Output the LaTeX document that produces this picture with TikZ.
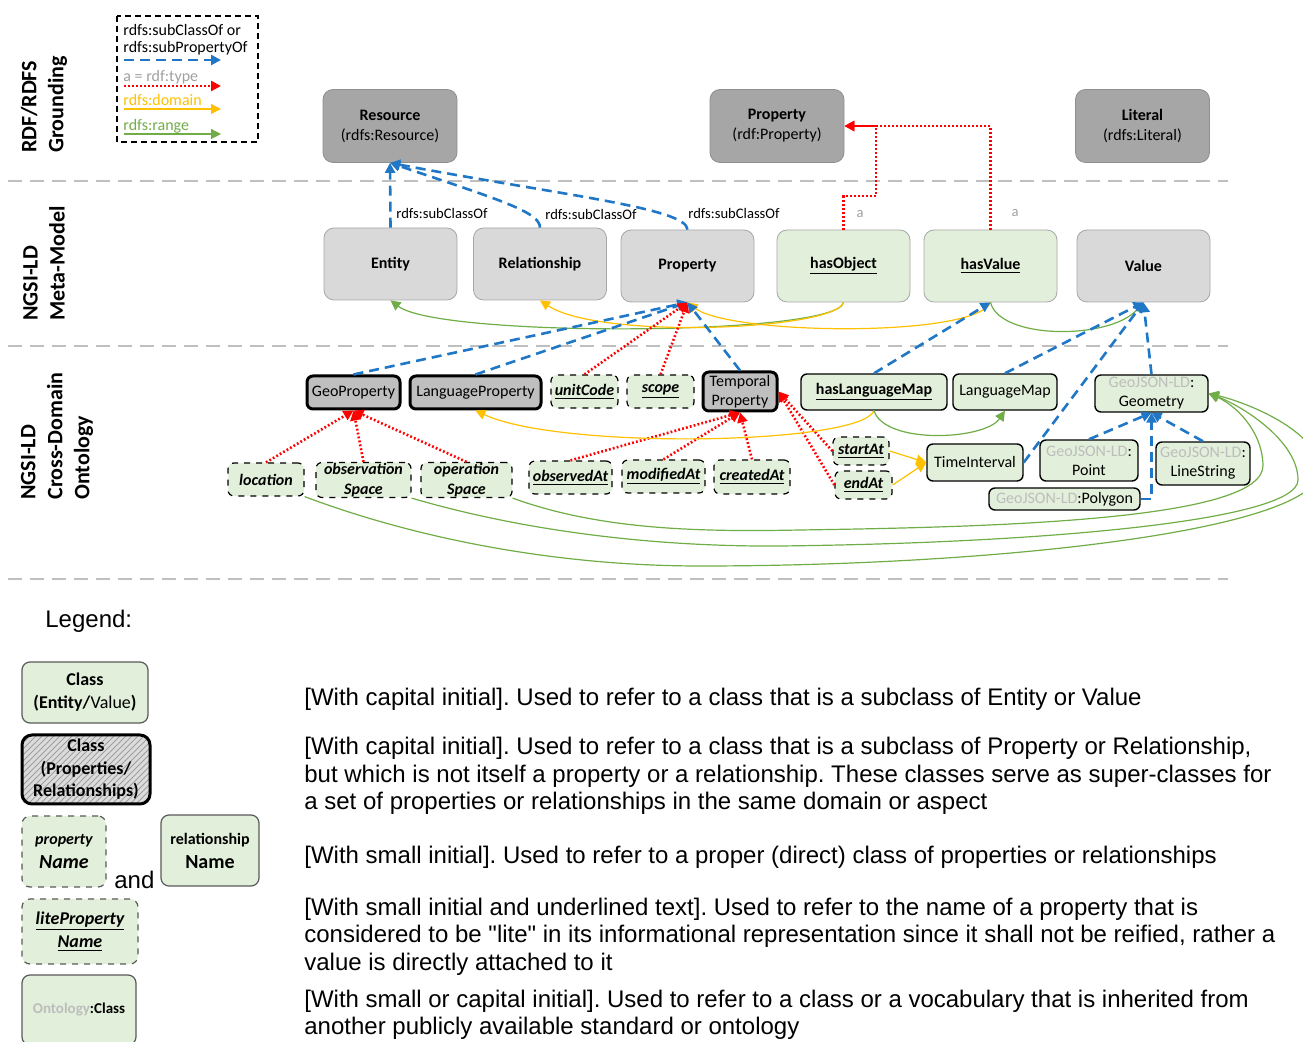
\documentclass[tikz,border=0pt]{standalone}
\usepackage{fontspec}
\setmainfont{Carlito}
\newfontfamily\arialfont{Liberation Sans}
\usepackage{tikz}
\usetikzlibrary{arrows.meta,patterns}
\frenchspacing

\definecolor{rdfgray}{HTML}{A6A6A6}
\definecolor{rdfedge}{HTML}{8F8F8F}
\definecolor{metagray}{HTML}{D9D9D9}
\definecolor{metaedge}{HTML}{A6A6A6}
\definecolor{groupgray}{HTML}{BFBFBF}
\definecolor{litegreen}{HTML}{E2EFDA}
\definecolor{subblue}{HTML}{1F77C6}
\definecolor{domorange}{HTML}{FFC000}
\definecolor{rngreen}{HTML}{70AD47}
\definecolor{sepgray}{HTML}{BFBFBF}
\definecolor{ontgray}{HTML}{BDBDBD}
\definecolor{lblgray}{HTML}{A0A0A0}
\definecolor{lgedge}{HTML}{595959}

\begin{document}
\begin{tikzpicture}[x=0.5pt,y=-0.5pt,
	rdfbox/.style={draw=rdfedge,fill=rdfgray,rounded corners=5pt,minimum width=67pt,minimum height=36.5pt,align=center,font=\fontsize{8}{10}\selectfont},
	metabox/.style={draw=metaedge,fill=metagray,rounded corners=5pt,minimum width=66.5pt,minimum height=36pt,font=\fontsize{8}{10}\selectfont\bfseries},
	metalite/.style={metabox,fill=litegreen},
	groupbox/.style={draw=black,line width=1.5pt,fill=groupgray,rounded corners=3pt,inner sep=0pt,align=center,font=\fontsize{8}{9.5}\selectfont},
	propbox/.style={draw=black,dashed,line width=0.6pt,fill=litegreen,rounded corners=3pt,inner sep=0pt,align=center,font=\fontsize{8}{10}\selectfont\bfseries\itshape},
	classbox/.style={draw=black,line width=0.7pt,fill=litegreen,rounded corners=3pt,inner sep=0pt,align=center,font=\fontsize{8}{9.5}\selectfont},
	lbl/.style={font=\fontsize{7.3}{8}\selectfont,inner sep=1pt},
	keytext/.style={font=\fontsize{8}{9}\selectfont,inner sep=0pt,anchor=west},
	sidetext/.style={rotate=90,anchor=west,align=left,inner sep=0pt,font=\fontsize{11}{13.5}\selectfont\bfseries},
	sepline/.style={draw=sepgray,line width=1.2pt,dash pattern=on 7pt off 4pt},
	subline/.style={draw=subblue,line width=1.3pt,dash pattern=on 5pt off 3pt,-{Triangle[length=5pt,width=5pt]}},
	typeline/.style={draw=red,line width=1.3pt,dash pattern=on 0.9pt off 1.1pt,-{Triangle[length=5pt,width=5pt]}},
	domline/.style={draw=domorange,line width=0.6pt,-{Triangle[length=5pt,width=5pt]}},
	rngline/.style={draw=rngreen,line width=0.6pt,-{Triangle[length=5pt,width=5pt]}},
	lgbox/.style={draw=lgedge,line width=0.6pt,fill=litegreen,rounded corners=4pt,inner sep=0pt,align=center,font=\fontsize{9}{11.5}\selectfont},
	lgtext/.style={anchor=north west,inner sep=0pt,align=left,font=\arialfont\fontsize{12}{13.75}\selectfont}
]
	\useasboundingbox (0,0) rectangle (1303,1042);

	% layer separators and side titles
	\draw[sepline] (8,181) -- (1228,181);
	\draw[sepline] (8,346) -- (1228,346);
	\draw[sepline] (8,579) -- (1228,579);
	\node[sidetext] (titlerdf) at (44,153) {RDF/RDFS\\Grounding};
	\node[sidetext] (titlemeta) at (44,321) {NGSI-LD\\Meta-Model};
	\node[sidetext] (titlecross) at (57,500) {NGSI-LD\\Cross-Domain\\Ontology};

	% key box
	\draw[black,line width=0.8pt,dash pattern=on 3pt off 2pt] (117,16) rectangle (258,142);
	\node[keytext] (keysub) at (123,30) {rdfs:subClassOf or};
	\node[keytext] (keysubp) at (123,48) {rdfs:subPropertyOf};
	\node[keytext,text=lblgray] (keytype) at (123,77) {a = rdf:type};
	\node[keytext,text=domorange] (keydom) at (123,100) {rdfs:domain};
	\node[keytext,text=rngreen] (keyrng) at (123,126) {rdfs:range};
	\coordinate (ksubA) at (124,60);
	\coordinate (ksubB) at (221,60);
	\coordinate (ktypeA) at (124,86);
	\coordinate (ktypeB) at (221,86);
	\coordinate (kdomA) at (124,109);
	\coordinate (kdomB) at (221,109);
	\coordinate (krngA) at (124,134);
	\coordinate (krngB) at (221,134);
	\draw[subline] (ksubA) -- (ksubB);
	\draw[typeline] (ktypeA) -- (ktypeB);
	\draw[domline] (kdomA) -- (kdomB);
	\draw[rngline] (krngA) -- (krngB);

	% RDF/RDFS grounding
	\node[rdfbox] (res) at (390,126) {\textbf{Resource}\\(rdfs:Resource)};
	\node[rdfbox] (rdfprop) at (777,126) {\textbf{Property}\\(rdf:Property)};
	\node[rdfbox] (lit) at (1142.5,126) {\textbf{Literal}\\(rdfs:Literal)};

	% meta-model
	\node[metabox] (ent) at (390.5,264) {Entity};
	\node[metabox] (rel) at (540,264) {Relationship};
	\node[metabox] (prop) at (687.5,266) {Property};
	\node[metalite] (hasobj) at (843.5,266) {\underline{hasObject}};
	\node[metalite] (hasval) at (990.5,266) {\underline{hasValue}};
	\node[metabox] (val) at (1143.5,266) {Value};

	% cross-domain ontology
	\node[groupbox,minimum width=46.5pt,minimum height=16.5pt] (geoprop) at (353.5,392.5) {GeoProperty};
	\node[groupbox,minimum width=65.5pt,minimum height=16.5pt] (langprop) at (475.5,392.5) {LanguageProperty};
	\node[propbox,minimum width=33.5pt,minimum height=16.5pt] (unitcode) at (584.5,391.5) {\underline{unitCode}};
	\node[propbox,minimum width=33.5pt,minimum height=16.5pt] (scope) at (660.5,391.5) {\underline{scope}};
	\node[groupbox,minimum width=37pt,minimum height=19.5pt] (tempprop) at (740,391.5) {Temporal\\Property};
	\node[classbox,minimum width=73pt,minimum height=18pt,font=\fontsize{8}{9.5}\selectfont\bfseries] (haslangmap) at (874,392) {\underline{hasLanguageMap}};
	\node[classbox,minimum width=52pt,minimum height=18pt] (langmap) at (1005,392) {LanguageMap};
	\node[classbox,minimum width=56.5pt,minimum height=18.5pt] (geom) at (1151.5,393.5) {{\color{ontgray}GeoJSON-LD}:\\Geometry};
	\node[propbox,minimum width=38pt,minimum height=16.5pt] (loc) at (266,479.5) {location};
	\node[propbox,minimum width=47.5pt,minimum height=17.5pt] (obsspace) at (363.5,480) {observation\\Space};
	\node[propbox,minimum width=45.5pt,minimum height=17.5pt] (opspace) at (466.5,480) {operation\\Space};
	\node[propbox,minimum width=41.5pt,minimum height=16.5pt] (obsat) at (570.5,477.5) {\underline{observedAt}};
	\node[propbox,minimum width=41.5pt,minimum height=16.5pt] (modat) at (663.5,476.5) {\underline{modifiedAt}};
	\node[propbox,minimum width=38pt,minimum height=17pt] (creat) at (752,477) {\underline{createdAt}};
	\node[propbox,minimum width=28pt,minimum height=14pt] (startat) at (861,451) {\underline{startAt}};
	\node[propbox,minimum width=28.5pt,minimum height=14pt] (endat) at (863.5,485) {\underline{endAt}};
	\node[classbox,minimum width=48pt,minimum height=18.5pt] (timeint) at (975,462.5) {TimeInterval};
	\node[classbox,minimum width=49pt,minimum height=20.5pt] (point) at (1089,460.5) {{\color{ontgray}GeoJSON-LD}:\\Point};
	\node[classbox,minimum width=47pt,minimum height=21.5pt] (linestr) at (1203,463.5) {{\color{ontgray}GeoJSON-LD}:\\LineString};
	\node[classbox,minimum width=75.5pt,minimum height=11pt] (polygon) at (1064.5,499) {{\color{ontgray}GeoJSON-LD}:Polygon};

	% grounding links
	\draw[subline] (ent.north) -- (res.south);
	\draw[subline] (rel.north) .. controls (540,212) and (500,200) .. (res.south);
	\draw[subline] (prop.north) .. controls (687,208) and (560,195) .. (res.south);
	\node[lbl,anchor=west] (lblent) at (394,213) {rdfs:subClassOf};
	\node[lbl,anchor=west] (lblrel) at (543,214) {rdfs:subClassOf};
	\node[lbl,anchor=west] (lblprop) at (686,213) {rdfs:subClassOf};
	\node[lbl,text=lblgray] (lblobj) at (860,214) {a};
	\node[lbl,text=lblgray] (lblval) at (1015,213) {a};
	\draw[typeline] (hasobj.north) -- (843.5,196) -- (876,196) -- (876,126) -- (rdfprop.east);
	\draw[typeline] (hasval.north) |- (rdfprop.east);

	% meta-model domain and range
	\draw[rngline] (hasobj.south) .. controls (838,336) and (440,338) .. (ent.south);
	\draw[domline] (hasobj.south) .. controls (835,330) and (600,340) .. (rel.south);
	\draw[domline] (hasval.south) .. controls (975,338) and (730,335) .. (prop.south);
	\draw[rngline] (hasval.south) .. controls (1000,340) and (1110,340) .. (val.south);

	% ontology to meta-model
	\draw[subline] (geoprop.north) -- (prop.south);
	\draw[subline] (langprop.north) -- (prop.south);
	\draw[subline] (tempprop.north) -- (prop.south);
	\draw[typeline] (unitcode.north) -- (prop.south);
	\draw[typeline] (scope.north) -- (prop.south);
	\draw[subline] (haslangmap.north) -- (hasval.south);
	\draw[subline] (langmap.north) -- (val.south);
	\draw[subline] (timeint.east) -- (val.south);
	\draw[subline] (geom.north) -- (val.south);

	% inside the ontology
	\draw[typeline] (loc.north) -- (geoprop.south);
	\draw[typeline] (obsspace.north) -- (geoprop.south);
	\draw[typeline] (opspace.north) -- (geoprop.south);
	\draw[typeline] (obsat.north) -- (tempprop.south);
	\draw[typeline] (modat.north) -- (tempprop.south);
	\draw[typeline] (creat.north) -- (tempprop.south);
	\draw[typeline] (startat.west) -- (tempprop.east);
	\draw[typeline] (endat.west) -- (tempprop.east);
	\draw[domline] (haslangmap.south) .. controls (860,445) and (560,450) .. (langprop.south);
	\draw[rngline] (haslangmap.south) .. controls (885,445) and (985,440) .. (langmap.south);
	\draw[domline] (startat.east) -- (timeint.west);
	\draw[domline] (endat.east) -- (timeint.west);
	\draw[subline] (point.north) -- (geom.south);
	\draw[subline] (linestr.north) -- (geom.south);
	\draw[subline] (polygon.east) -| (geom.south);
	\draw[rngline] (opspace.south east) .. controls (600,530) and (700,532) .. (800,530)
		.. controls (1000,527) and (1265,520) .. (1263,465) .. controls (1262,430) and (1235,405) .. (geom.east);
	\draw[rngline] (obsspace.south east) .. controls (520,530) and (650,547) .. (780,546)
		.. controls (1050,543) and (1298,520) .. (1298,480) .. controls (1298,440) and (1240,405) .. (geom.east);
	\draw[rngline] (loc.south east) .. controls (420,540) and (560,566) .. (700,566)
		.. controls (1000,566) and (1320,530) .. (1320,470) .. controls (1318,430) and (1245,402) .. (geom.east);

	% legend
	\node[anchor=west,inner sep=0pt,font=\arialfont\fontsize{12}{14}\selectfont] (legend) at (45,621) {Legend:};
	\node[lgbox,minimum width=63pt,minimum height=30.5pt] (lgclass) at (85,692.5) {\textbf{Class}\\\textbf{(Entity/}Value\textbf{)}};
	\node[draw=black,line width=1.5pt,rounded corners=5pt,preaction={fill=groupgray!55},pattern=north east lines,pattern color=gray!75,inner sep=0pt,align=center,font=\fontsize{9}{11.25}\selectfont\bfseries,minimum width=64pt,minimum height=34.5pt] (lggroup) at (86,769.5) {Class\\(Properties/\\Relationships)};
	\node[lgbox,dashed,minimum width=42pt,minimum height=35.5pt,font=\bfseries\itshape] (lgprop) at (64,851.5) {{\fontsize{8}{10}\selectfont property}\\{\fontsize{10}{12}\selectfont Name}};
	\node[anchor=west,inner sep=0pt,font=\arialfont\fontsize{12}{14}\selectfont] (lgand) at (114,880) {and};
	\node[lgbox,minimum width=49pt,minimum height=35.5pt,font=\bfseries] (lgrel) at (210,850.5) {{\fontsize{8}{10}\selectfont relationship}\\{\fontsize{10}{12}\selectfont Name}};
	\node[lgbox,dashed,minimum width=58pt,minimum height=32.5pt,font=\fontsize{9}{11.5}\selectfont\bfseries\itshape] (lglite) at (80,931.5) {\underline{liteProperty}\\\underline{Name}};
	\node[lgbox,minimum width=57pt,minimum height=35pt,font=\fontsize{7.5}{9}\selectfont\bfseries] (lgont) at (79,1010) {{\color{ontgray}Ontology}:Class};

	\node[lgtext] (txtclass) at (304,688) {[With capital initial]. Used to refer to a class that is a subclass of Entity or Value};
	\node[lgtext] (txtgroup) at (304,737) {[With capital initial]. Used to refer to a class that is a subclass of Property or Relationship,\\but which is not itself a property or a relationship. These classes serve as super-classes for\\a set of properties or relationships in the same domain or aspect};
	\node[lgtext] (txtprop) at (304,845.5) {[With small initial]. Used to refer to a proper (direct) class of properties or relationships};
	\node[lgtext] (txtlite) at (304,897.5) {[With small initial and underlined text]. Used to refer to the name of a property that is\\considered to be "lite" in its informational representation since it shall not be reified, rather a\\value is directly attached to it};
	\node[lgtext] (txtont) at (304,989.5) {[With small or capital initial]. Used to refer to a class or a vocabulary that is inherited from\\another publicly available standard or ontology};
\end{tikzpicture}
\end{document}
